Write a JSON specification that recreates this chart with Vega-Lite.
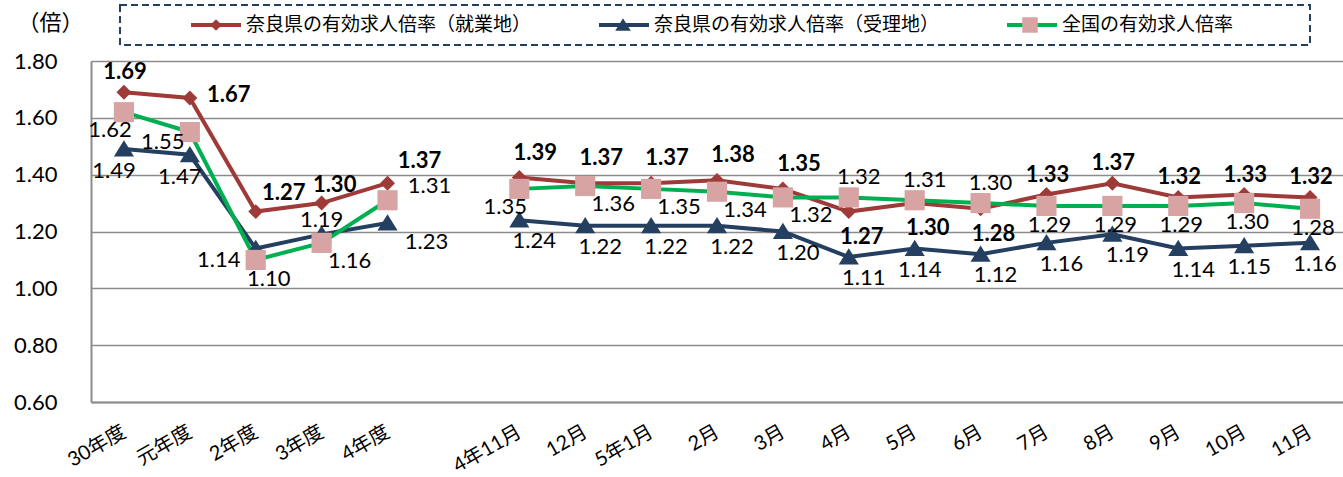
{
  "$schema": "https://vega.github.io/schema/vega-lite/v6.json",
  "width": 1252,
  "height": 341,
  "autosize": {"type": "none"},
  "padding": {"left": 91, "top": 61, "right": 0, "bottom": 75},
  "background": "white",
  "data": {
    "values": [
      {"series": "奈良県の有効求人倍率（就業地）", "cat": "30年度", "period": "年度", "value": 1.69},
      {"series": "奈良県の有効求人倍率（就業地）", "cat": "元年度", "period": "年度", "value": 1.67},
      {"series": "奈良県の有効求人倍率（就業地）", "cat": "2年度", "period": "年度", "value": 1.27},
      {"series": "奈良県の有効求人倍率（就業地）", "cat": "3年度", "period": "年度", "value": 1.30},
      {"series": "奈良県の有効求人倍率（就業地）", "cat": "4年度", "period": "年度", "value": 1.37},
      {"series": "奈良県の有効求人倍率（就業地）", "cat": "4年11月", "period": "月", "value": 1.39},
      {"series": "奈良県の有効求人倍率（就業地）", "cat": "12月", "period": "月", "value": 1.37},
      {"series": "奈良県の有効求人倍率（就業地）", "cat": "5年1月", "period": "月", "value": 1.37},
      {"series": "奈良県の有効求人倍率（就業地）", "cat": "2月", "period": "月", "value": 1.38},
      {"series": "奈良県の有効求人倍率（就業地）", "cat": "3月", "period": "月", "value": 1.35},
      {"series": "奈良県の有効求人倍率（就業地）", "cat": "4月", "period": "月", "value": 1.27},
      {"series": "奈良県の有効求人倍率（就業地）", "cat": "5月", "period": "月", "value": 1.30},
      {"series": "奈良県の有効求人倍率（就業地）", "cat": "6月", "period": "月", "value": 1.28},
      {"series": "奈良県の有効求人倍率（就業地）", "cat": "7月", "period": "月", "value": 1.33},
      {"series": "奈良県の有効求人倍率（就業地）", "cat": "8月", "period": "月", "value": 1.37},
      {"series": "奈良県の有効求人倍率（就業地）", "cat": "9月", "period": "月", "value": 1.32},
      {"series": "奈良県の有効求人倍率（就業地）", "cat": "10月", "period": "月", "value": 1.33},
      {"series": "奈良県の有効求人倍率（就業地）", "cat": "11月", "period": "月", "value": 1.32},
      {"series": "奈良県の有効求人倍率（受理地）", "cat": "30年度", "period": "年度", "value": 1.49},
      {"series": "奈良県の有効求人倍率（受理地）", "cat": "元年度", "period": "年度", "value": 1.47},
      {"series": "奈良県の有効求人倍率（受理地）", "cat": "2年度", "period": "年度", "value": 1.14},
      {"series": "奈良県の有効求人倍率（受理地）", "cat": "3年度", "period": "年度", "value": 1.19},
      {"series": "奈良県の有効求人倍率（受理地）", "cat": "4年度", "period": "年度", "value": 1.23},
      {"series": "奈良県の有効求人倍率（受理地）", "cat": "4年11月", "period": "月", "value": 1.24},
      {"series": "奈良県の有効求人倍率（受理地）", "cat": "12月", "period": "月", "value": 1.22},
      {"series": "奈良県の有効求人倍率（受理地）", "cat": "5年1月", "period": "月", "value": 1.22},
      {"series": "奈良県の有効求人倍率（受理地）", "cat": "2月", "period": "月", "value": 1.22},
      {"series": "奈良県の有効求人倍率（受理地）", "cat": "3月", "period": "月", "value": 1.20},
      {"series": "奈良県の有効求人倍率（受理地）", "cat": "4月", "period": "月", "value": 1.11},
      {"series": "奈良県の有効求人倍率（受理地）", "cat": "5月", "period": "月", "value": 1.14},
      {"series": "奈良県の有効求人倍率（受理地）", "cat": "6月", "period": "月", "value": 1.12},
      {"series": "奈良県の有効求人倍率（受理地）", "cat": "7月", "period": "月", "value": 1.16},
      {"series": "奈良県の有効求人倍率（受理地）", "cat": "8月", "period": "月", "value": 1.19},
      {"series": "奈良県の有効求人倍率（受理地）", "cat": "9月", "period": "月", "value": 1.14},
      {"series": "奈良県の有効求人倍率（受理地）", "cat": "10月", "period": "月", "value": 1.15},
      {"series": "奈良県の有効求人倍率（受理地）", "cat": "11月", "period": "月", "value": 1.16},
      {"series": "全国の有効求人倍率", "cat": "30年度", "period": "年度", "value": 1.62},
      {"series": "全国の有効求人倍率", "cat": "元年度", "period": "年度", "value": 1.55},
      {"series": "全国の有効求人倍率", "cat": "2年度", "period": "年度", "value": 1.10},
      {"series": "全国の有効求人倍率", "cat": "3年度", "period": "年度", "value": 1.16},
      {"series": "全国の有効求人倍率", "cat": "4年度", "period": "年度", "value": 1.31},
      {"series": "全国の有効求人倍率", "cat": "4年11月", "period": "月", "value": 1.35},
      {"series": "全国の有効求人倍率", "cat": "12月", "period": "月", "value": 1.36},
      {"series": "全国の有効求人倍率", "cat": "5年1月", "period": "月", "value": 1.35},
      {"series": "全国の有効求人倍率", "cat": "2月", "period": "月", "value": 1.34},
      {"series": "全国の有効求人倍率", "cat": "3月", "period": "月", "value": 1.32},
      {"series": "全国の有効求人倍率", "cat": "4月", "period": "月", "value": 1.32},
      {"series": "全国の有効求人倍率", "cat": "5月", "period": "月", "value": 1.31},
      {"series": "全国の有効求人倍率", "cat": "6月", "period": "月", "value": 1.30},
      {"series": "全国の有効求人倍率", "cat": "7月", "period": "月", "value": 1.29},
      {"series": "全国の有効求人倍率", "cat": "8月", "period": "月", "value": 1.29},
      {"series": "全国の有効求人倍率", "cat": "9月", "period": "月", "value": 1.29},
      {"series": "全国の有効求人倍率", "cat": "10月", "period": "月", "value": 1.30},
      {"series": "全国の有効求人倍率", "cat": "11月", "period": "月", "value": 1.28}
    ]
  },
  "encoding": {
    "x": {
      "field": "cat", "type": "ordinal", "sort": null,
      "scale": {"type": "point", "padding": 0.5,
        "domain": ["30年度", "元年度", "2年度", "3年度", "4年度", " ", "4年11月", "12月", "5年1月", "2月", "3月", "4月", "5月", "6月", "7月", "8月", "9月", "10月", "11月"]},
      "axis": {
        "title": null, "grid": false, "ticks": false, "tickSize": 0,
        "labelAngle": -30, "labelAlign": "right", "labelBaseline": "middle",
        "labelFont": "Lato, Noto Sans CJK JP", "labelFontSize": 20, "labelColor": "#000000",
        "labelPadding": 28, "domainColor": "#8C8C8C", "domainWidth": 2
      }
    },
    "y": {
      "field": "value", "type": "quantitative",
      "scale": {"domain": [0.6, 1.8], "nice": false, "zero": false},
      "axis": {
        "values": [0.6, 0.8, 1.0, 1.2, 1.4, 1.6, 1.8], "format": ".2f",
        "ticks": false, "tickSize": 0, "labelPadding": 34,
        "labelFont": "Lato", "labelFontSize": 22, "labelColor": "#000000",
        "domainColor": "#8C8C8C", "domainWidth": 2,
        "grid": true, "gridColor": "#8C8C8C", "gridWidth": 1.5,
        "title": "（倍）", "titleAngle": 0, "titleX": -41, "titleY": -39,
        "titleAlign": "center", "titleBaseline": "middle",
        "titleFont": "Noto Sans CJK JP", "titleFontSize": 22, "titleFontWeight": "normal", "titleColor": "#000000"
      }
    }
  },
  "layer": [
    {
      "mark": {"type": "line", "strokeWidth": 4},
      "encoding": {
        "color": {
          "field": "series", "type": "nominal",
          "scale": {"domain": ["奈良県の有効求人倍率（就業地）", "奈良県の有効求人倍率（受理地）", "全国の有効求人倍率"], "range": ["#9E3A38", "#243F60", "#00B050"]},
          "legend": {
            "title": " ", "titleOrient": "left", "titleFont": "Lato", "titleFontSize": 19, "titlePadding": 61,
            "orient": "none", "legendX": 29, "legendY": -56, "direction": "horizontal",
            "symbolType": "stroke", "symbolSize": 2500, "symbolStrokeWidth": 4,
            "labelFont": "Noto Sans CJK JP", "labelFontSize": 19, "labelColor": "#000000", "labelLimit": 600,
            "labelOffset": 3, "columnPadding": 65, "padding": 8, "clipHeight": 24
          }
        },
        "detail": {"field": "period", "type": "nominal"},
        "order": {"value": null}
      }
    },
    {
      "mark": {"type": "point", "filled": true, "opacity": 1, "size": 4225},
      "encoding": {
        "color": {
          "field": "series", "type": "nominal",
          "scale": {"domain": ["奈良県の有効求人倍率（就業地）", "奈良県の有効求人倍率（受理地）", "全国の有効求人倍率"], "range": ["#9E3A38", "#243F60", "#D8A3A3"]},
          "legend": {
            "title": " ", "titleOrient": "left", "titleFont": "Lato", "titleFontSize": 19, "titlePadding": 61,
            "orient": "none", "legendX": 29, "legendY": -56, "direction": "horizontal",
            "symbolSize": 2500, "symbolStrokeWidth": 4, "symbolStrokeColor": "transparent",
            "labelFont": "Noto Sans CJK JP", "labelFontSize": 19, "labelOpacity": 0, "labelLimit": 600,
            "labelExpr": "''",
            "labelOffset": 245, "columnPadding": 108, "padding": 8, "clipHeight": 24,
            "strokeColor": "#243F60",
            "encode": {"legend": {"update": {"strokeDash": {"value": [7, 4]}, "strokeWidth": {"value": 2}}}}
          }
        },
        "shape": {
          "field": "series", "type": "nominal",
          "scale": {"domain": ["奈良県の有効求人倍率（就業地）", "奈良県の有効求人倍率（受理地）", "全国の有効求人倍率"],
            "range": ["M0,-0.23L0.23,0L0,0.23L-0.23,0Z", "M0,-0.27L0.31,0.23L-0.31,0.23Z", "M-0.31,-0.31L0.31,-0.31L0.31,0.31L-0.31,0.31Z"]}
        }
      }
    },
    {
      "transform": [{"filter": {"and": [{"field": "series", "equal": "奈良県の有効求人倍率（就業地）"}, {"field": "cat", "oneOf": ["4年11月", "12月", "5年1月", "2月", "3月"]}]}}],
      "mark": {"type": "text", "dx": 16, "dy": -25, "fontWeight": "bold"},
      "encoding": {"text": {"field": "value", "type": "quantitative", "format": ".2f"}}
    },
    {
      "transform": [{"filter": {"and": [{"field": "series", "equal": "奈良県の有効求人倍率（就業地）"}, {"field": "cat", "oneOf": ["30年度", "7月", "8月", "9月", "10月", "11月"]}]}}],
      "mark": {"type": "text", "dx": 1, "dy": -20, "fontWeight": "bold"},
      "encoding": {"text": {"field": "value", "type": "quantitative", "format": ".2f"}}
    },
    {
      "transform": [{"filter": {"and": [{"field": "series", "equal": "奈良県の有効求人倍率（就業地）"}, {"field": "cat", "oneOf": ["4月", "5月", "6月"]}]}}],
      "mark": {"type": "text", "dx": 13, "dy": 25, "fontWeight": "bold"},
      "encoding": {"text": {"field": "value", "type": "quantitative", "format": ".2f"}}
    },
    {
      "transform": [{"filter": {"and": [{"field": "series", "equal": "奈良県の有効求人倍率（就業地）"}, {"field": "cat", "oneOf": ["元年度"]}]}}],
      "mark": {"type": "text", "dx": 39, "dy": -3, "fontWeight": "bold"},
      "encoding": {"text": {"field": "value", "type": "quantitative", "format": ".2f"}}
    },
    {
      "transform": [{"filter": {"and": [{"field": "series", "equal": "奈良県の有効求人倍率（就業地）"}, {"field": "cat", "oneOf": ["2年度"]}]}}],
      "mark": {"type": "text", "dx": 28, "dy": -19, "fontWeight": "bold"},
      "encoding": {"text": {"field": "value", "type": "quantitative", "format": ".2f"}}
    },
    {
      "transform": [{"filter": {"and": [{"field": "series", "equal": "奈良県の有効求人倍率（就業地）"}, {"field": "cat", "oneOf": ["4年度"]}]}}],
      "mark": {"type": "text", "dx": 32, "dy": -22, "fontWeight": "bold"},
      "encoding": {"text": {"field": "value", "type": "quantitative", "format": ".2f"}}
    },
    {
      "transform": [{"filter": {"and": [{"field": "series", "equal": "奈良県の有効求人倍率（就業地）"}, {"field": "cat", "oneOf": ["3年度"]}]}}],
      "mark": {"type": "text", "dx": 13, "dy": -18, "fontWeight": "bold"},
      "encoding": {"text": {"field": "value", "type": "quantitative", "format": ".2f"}}
    },
    {
      "transform": [{"filter": {"and": [{"field": "series", "equal": "奈良県の有効求人倍率（受理地）"}, {"field": "cat", "oneOf": ["4年11月", "12月", "5年1月", "2月", "3月", "4月", "6月", "7月", "8月", "9月"]}]}}],
      "mark": {"type": "text", "dx": 15, "dy": 21},
      "encoding": {"text": {"field": "value", "type": "quantitative", "format": ".2f"}}
    },
    {
      "transform": [{"filter": {"and": [{"field": "series", "equal": "奈良県の有効求人倍率（受理地）"}, {"field": "cat", "oneOf": ["5月", "10月", "11月"]}]}}],
      "mark": {"type": "text", "dx": 5, "dy": 21},
      "encoding": {"text": {"field": "value", "type": "quantitative", "format": ".2f"}}
    },
    {
      "transform": [{"filter": {"and": [{"field": "series", "equal": "奈良県の有効求人倍率（受理地）"}, {"field": "cat", "oneOf": ["30年度", "元年度"]}]}}],
      "mark": {"type": "text", "dx": -10, "dy": 22},
      "encoding": {"text": {"field": "value", "type": "quantitative", "format": ".2f"}}
    },
    {
      "transform": [{"filter": {"and": [{"field": "series", "equal": "奈良県の有効求人倍率（受理地）"}, {"field": "cat", "oneOf": ["2年度"]}]}}],
      "mark": {"type": "text", "dx": -37, "dy": 11},
      "encoding": {"text": {"field": "value", "type": "quantitative", "format": ".2f"}}
    },
    {
      "transform": [{"filter": {"and": [{"field": "series", "equal": "奈良県の有効求人倍率（受理地）"}, {"field": "cat", "oneOf": ["3年度"]}]}}],
      "mark": {"type": "text", "dx": 0, "dy": -14},
      "encoding": {"text": {"field": "value", "type": "quantitative", "format": ".2f"}}
    },
    {
      "transform": [{"filter": {"and": [{"field": "series", "equal": "奈良県の有効求人倍率（受理地）"}, {"field": "cat", "oneOf": ["4年度"]}]}}],
      "mark": {"type": "text", "dx": 39, "dy": 19},
      "encoding": {"text": {"field": "value", "type": "quantitative", "format": ".2f"}}
    },
    {
      "transform": [{"filter": {"and": [{"field": "series", "equal": "全国の有効求人倍率"}, {"field": "cat", "oneOf": ["7月", "8月", "9月", "10月", "11月"]}]}}],
      "mark": {"type": "text", "dx": 3, "dy": 19},
      "encoding": {"text": {"field": "value", "type": "quantitative", "format": ".2f"}}
    },
    {
      "transform": [{"filter": {"and": [{"field": "series", "equal": "全国の有効求人倍率"}, {"field": "cat", "oneOf": ["2年度"]}]}}],
      "mark": {"type": "text", "dx": 13, "dy": 19},
      "encoding": {"text": {"field": "value", "type": "quantitative", "format": ".2f"}}
    },
    {
      "transform": [{"filter": {"and": [{"field": "series", "equal": "全国の有効求人倍率"}, {"field": "cat", "oneOf": ["12月", "5年1月", "2月", "3月", "3年度"]}]}}],
      "mark": {"type": "text", "dx": 28, "dy": 18},
      "encoding": {"text": {"field": "value", "type": "quantitative", "format": ".2f"}}
    },
    {
      "transform": [{"filter": {"and": [{"field": "series", "equal": "全国の有効求人倍率"}, {"field": "cat", "oneOf": ["4月", "5月", "6月"]}]}}],
      "mark": {"type": "text", "dx": 10, "dy": -20},
      "encoding": {"text": {"field": "value", "type": "quantitative", "format": ".2f"}}
    },
    {
      "transform": [{"filter": {"and": [{"field": "series", "equal": "全国の有効求人倍率"}, {"field": "cat", "oneOf": ["30年度", "4年11月"]}]}}],
      "mark": {"type": "text", "dx": -14, "dy": 18},
      "encoding": {"text": {"field": "value", "type": "quantitative", "format": ".2f"}}
    },
    {
      "transform": [{"filter": {"and": [{"field": "series", "equal": "全国の有効求人倍率"}, {"field": "cat", "oneOf": ["元年度"]}]}}],
      "mark": {"type": "text", "dx": -27, "dy": 10},
      "encoding": {"text": {"field": "value", "type": "quantitative", "format": ".2f"}}
    },
    {
      "transform": [{"filter": {"and": [{"field": "series", "equal": "全国の有効求人倍率"}, {"field": "cat", "oneOf": ["4年度"]}]}}],
      "mark": {"type": "text", "dx": 42, "dy": -14},
      "encoding": {"text": {"field": "value", "type": "quantitative", "format": ".2f"}}
    }
  ],
  "resolve": {
    "scale": {"color": "independent", "shape": "independent"},
    "legend": {"color": "independent", "shape": "independent"}
  },
  "config": {
    "view": {"stroke": null},
    "legend": {"strokeDash": [7, 4], "strokeWidth": 2},
    "text": {"font": "Lato", "fontSize": 22, "color": "#000000", "baseline": "middle", "align": "center"}
  }
}
